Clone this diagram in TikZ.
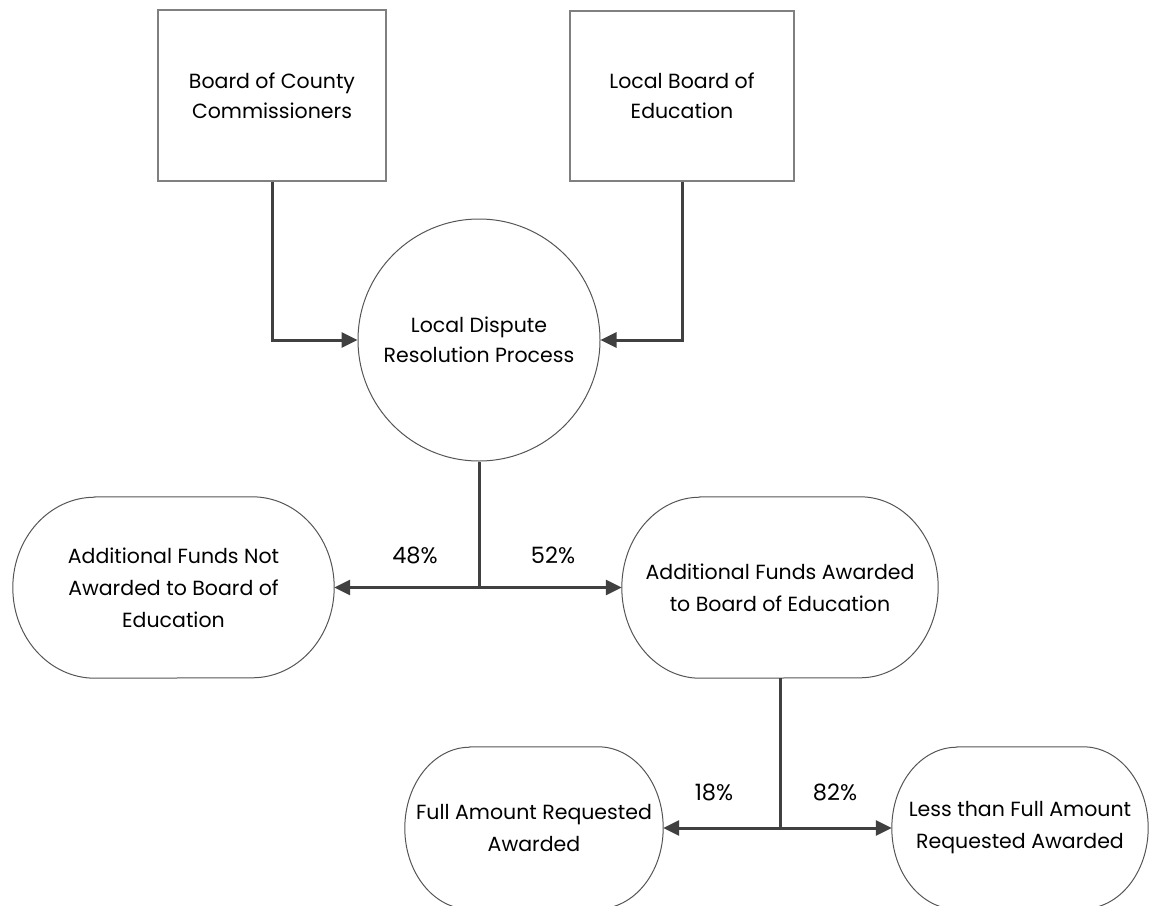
\documentclass[tikz,border=0pt]{standalone}
\usepackage{fontspec}
\setmainfont{Poppins}
\usetikzlibrary{arrows.meta}
\definecolor{conncol}{HTML}{404040}
\definecolor{boxcol}{HTML}{808080}
\definecolor{shapecol}{HTML}{555555}
\tikzset{
  boxnode/.style={draw=boxcol,line width=1.5pt,rectangle,align=center,font=\fontsize{20.5}{30}\selectfont,inner sep=0pt},
  circnode/.style={draw=shapecol,line width=1pt,circle,align=center,font=\fontsize{20.5}{30}\selectfont,inner sep=0pt,minimum size=242pt},
  stadnode/.style={rectangle,align=center,font=\fontsize{20.5}{32}\selectfont,inner sep=0pt},
  stadline/.style={draw=shapecol,line width=1pt},
  conn/.style={draw=conncol,line width=3pt},
  arr/.style={conn,-{Triangle[length=16pt,width=15pt]}},
  pct/.style={font=\fontsize{22.5}{26}\selectfont}
}
\newcommand\stadium[3]{\draw[stadline] ([xshift=#2]#1.north west) -- ([xshift=-#2]#1.north east) arc[start angle=90,end angle=-90,x radius=#2,y radius=#3] -- ([xshift=#2]#1.south west) arc[start angle=270,end angle=90,x radius=#2,y radius=#3] -- cycle;}
\begin{document}
\begin{tikzpicture}[x=1pt,y=1pt]
\useasboundingbox (0,0) rectangle (1154,-905);
\node[boxnode,minimum width=228pt,minimum height=171pt] (b1) at (272,-95.5) {Board of County\\Commissioners};
\node[boxnode,minimum width=224pt,minimum height=170pt] (b2) at (682,-96) {Local Board of\\Education};
\node[circnode] (c) at (479,-340) {Local Dispute\\Resolution Process};
\node[stadnode,minimum width=321pt,minimum height=181pt] (L) at (173.5,-587.5) {Additional Funds Not\\Awarded to Board of\\Education};
\node[stadnode,minimum width=316pt,minimum height=181pt] (R) at (780,-587.5) {Additional Funds Awarded\\to Board of Education};
\node[stadnode,minimum width=258pt,minimum height=162pt] (BL) at (534,-828) {Full Amount Requested\\Awarded};
\node[stadnode,minimum width=256pt,minimum height=162pt] (BR) at (1020,-828) {Less than Full Amount\\Requested Awarded};
\stadium{L}{82pt}{90.5pt}
\stadium{R}{78pt}{90.5pt}
\stadium{BL}{65pt}{81pt}
\stadium{BR}{65pt}{81pt}
\coordinate (j1) at (c.south |- L.east);
\coordinate (j2) at (R.south |- BL.east);
\draw[arr] (b1.south) |- (c.west);
\draw[arr] (b2.south) |- (c.east);
\draw[conn] (c.south) -- (j1);
\draw[arr] (j1) -- (L.east);
\draw[arr] (j1) -- (R.west);
\draw[conn] (R.south) -- (j2);
\draw[arr] (j2) -- (BL.east);
\draw[arr] (j2) -- (BR.west);
\node[pct] (p48) at (415,-555) {48\%};
\node[pct] (p52) at (553,-555) {52\%};
\node[pct] (p18) at (714,-792) {18\%};
\node[pct] (p82) at (835,-792) {82\%};
\end{tikzpicture}
\end{document}
